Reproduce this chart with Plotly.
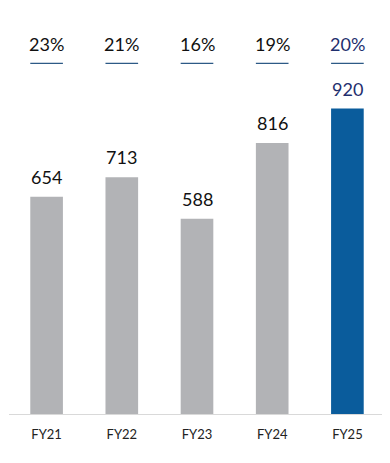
import plotly.graph_objects as go

categories = ["FY21", "FY22", "FY23", "FY24", "FY25"]
values = [654, 713, 588, 816, 920]
margins = ["23%", "21%", "16%", "19%", "20%"]
bar_colors = ["#b2b3b6", "#b2b3b6", "#b2b3b6", "#b2b3b6", "#0a5c9c"]
label_colors = ["#111111", "#111111", "#111111", "#111111", "#1f2f6e"]

FONT = "Lato, 'Open Sans', sans-serif"

fig = go.Figure()
fig.add_trace(go.Bar(
    x=categories, y=values,
    marker=dict(color=bar_colors, line=dict(width=0)),
    hoverinfo="skip",
))

annotations = []
shapes = []
for i, (c, v, m, lc) in enumerate(zip(categories, values, margins, label_colors)):
    annotations.append(dict(
        x=c, y=v, xref="x", yref="y", text=str(v), showarrow=False,
        yanchor="bottom", yshift=7, font=dict(family=FONT, size=18, color=lc),
    ))
    annotations.append(dict(
        x=c, y=1.114, xref="x", yref="paper", text=m, showarrow=False,
        yanchor="middle", font=dict(family=FONT, size=18, color=lc),
    ))
    shapes.append(dict(
        type="line", xref="x", yref="paper",
        x0=i - 0.217, x1=i + 0.217, y0=1.056, y1=1.056,
        line=dict(color="#2d5a86", width=1.3),
    ))

fig.update_layout(
    width=382, height=455,
    margin=dict(l=1, r=5, t=74, b=49),
    paper_bgcolor="white", plot_bgcolor="white",
    bargap=0.566,
    showlegend=False,
    annotations=annotations,
    shapes=shapes,
    xaxis=dict(
        showgrid=False, zeroline=False, showline=True,
        linecolor="#d9d9d9", linewidth=1, ticks="",
        ticklabelstandoff=8,
        tickfont=dict(family=FONT, size=13, color="#222222"),
    ),
    yaxis=dict(range=[0, 1000], visible=False, showgrid=False),
    font=dict(family=FONT),
)

fig.write_html("out.html")
